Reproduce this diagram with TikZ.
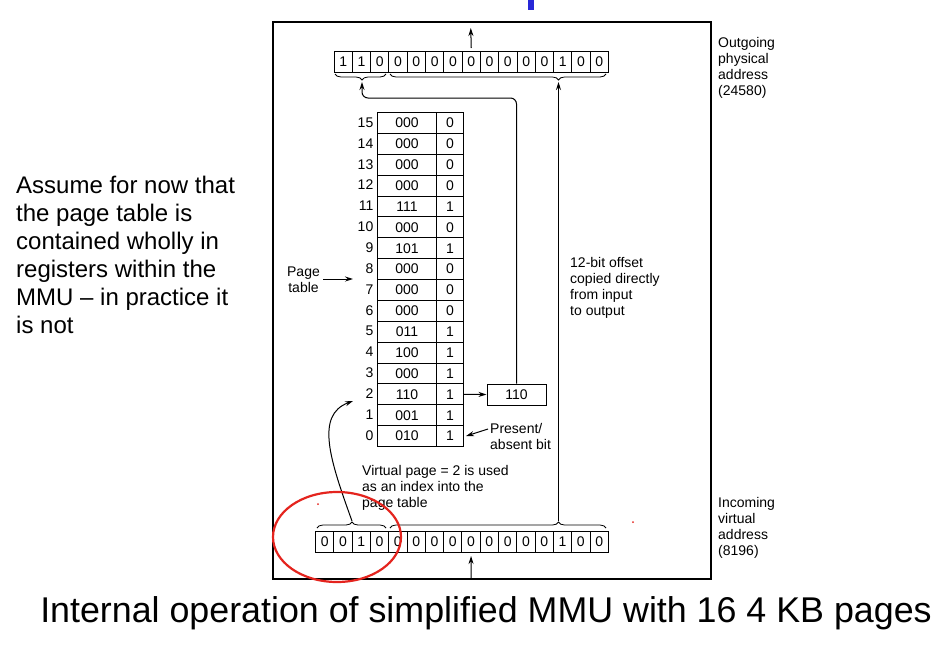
\documentclass[tikz,border=0pt]{standalone}
\usepackage{fontspec}
\setmainfont{Liberation Sans}
\usetikzlibrary{arrows.meta,decorations.pathreplacing,calc}
\definecolor{penred}{RGB}{228,36,30}
\definecolor{titleblue}{RGB}{40,40,215}
\begin{document}
\begin{tikzpicture}[x=1pt,y=-1pt,
  lbl/.style={font=\fontsize{14}{16}\selectfont, inner sep=0pt, align=left, anchor=north west},
  bitcell/.style={draw, line width=1pt, minimum width=18.3pt, minimum height=21pt, inner sep=0pt, anchor=north west, font=\fontsize{14}{16}\selectfont},
  tcell/.style={draw, line width=1pt, minimum height=20.875pt, inner sep=0pt, anchor=north west, font=\fontsize{14}{16}\selectfont},
  rownum/.style={font=\fontsize{14}{16}\selectfont, anchor=east, inner sep=0pt},
  arr/.style={-{Stealth[length=8pt,width=5pt]}, line width=1pt},
  brc/.style={decorate, line width=0.8pt},
]
\useasboundingbox (0,0) rectangle (950,646);
\fill[titleblue] (528,0) rectangle (534,10);
% frame
\draw[line width=1.1pt] (273,22) rectangle (711,579);
% top register (outgoing)
\foreach \b [count=\i from 0] in {1,1,0,0,0,0,0,0,0,0,0,0,1,0,0}{
  \node[bitcell] (t\i) at ({333.5+\i*18.3},51) {\b};
}
% bottom register (incoming)
\foreach \b [count=\i from 0] in {0,0,1,0,0,0,0,0,0,0,0,0,0,1,0,0}{
  \node[bitcell] (b\i) at ({315+\i*18.3},531) {\b};
}
% braces
\draw[brc, decoration={brace, mirror, amplitude=6pt, aspect=0.53}] (335,74) -- (386,74);
\draw[brc, decoration={brace, mirror, amplitude=6pt, aspect=0.78}] (390,74) -- (606,74);
\draw[brc, decoration={brace, amplitude=6pt, aspect=0.507}] (317,528) -- (386,528);
\draw[brc, decoration={brace, amplitude=6pt, aspect=0.78}] (390,528) -- (606,528);
\coordinate (tb1) at (362,82);
\coordinate (tb2) at (558.5,82);
\coordinate (bb1) at (352,521);
\coordinate (bb2) at (558.5,521);
% page table
\foreach \i/\f/\p in {15/000/0,14/000/0,13/000/0,12/000/0,11/111/1,10/000/0,9/101/1,8/000/0,7/000/0,6/000/0,5/011/1,4/100/1,3/000/1,2/110/1,1/001/1,0/010/1}{
  \pgfmathsetmacro{\yy}{112+(15-\i)*20.875}
  \node[tcell, minimum width=59pt] (f\i) at (377,\yy) {\f};
  \node[tcell, minimum width=27pt] (p\i) at (436,\yy) {\p};
  \node[rownum] (n\i) at (373.5,\yy+10.44) {\i};
}
% output frame box
\node[draw, line width=1pt, minimum width=59pt, minimum height=21pt, inner sep=0pt, font=\fontsize{14}{16}\selectfont] (box) at (516.5,394.5) {110};
\draw[arr] (p2.east) -- (box.west);
\coordinate (bend) at (362,98);
\draw[arr, rounded corners=6pt] (box.north) |- (bend) -- (tb1);
% offset copy
\draw[arr] (bb2) -- (tb2);
% in / out arrows
\coordinate (outtop) at (470.75,28);
\draw[arr] ([yshift=3pt]t7.north) -- (outtop);
\coordinate (inbot) at (471,578);
\draw[arr] (inbot) -- ([yshift=-3pt]b8.south);
% page table label
\node[lbl, align=center, anchor=north] (ptl) at (303.5,267) {Page\\table};
\coordinate (ptin) at (353,279);
\draw[arr] (323,279) -- (ptin);
% present/absent
\node[lbl] (pab) at (490,423) {Present/\\absent bit};
\draw[arr] ($(pab.north west)+(-2,6)$) -- ([xshift=2pt]p0.east);
% virtual page text
\node[lbl] (vpt) at (362,465) {Virtual page = 2 is used\\as an index into the\\page table};
\coordinate (vp) at (353,401);
\draw[arr] (bb1) .. controls (330,460) and (315,415) .. (vp);
% side labels
\node[lbl] (outl) at (718,37.5) {Outgoing\\physical\\address\\(24580)};
\node[lbl] (offl) at (570,257) {12-bit offset\\copied directly\\from input\\to output};
\node[lbl] (inl) at (718,497) {Incoming\\virtual\\address\\(8196)};
% left note
\node[font=\fontsize{24}{28}\selectfont, inner sep=0pt, align=left, anchor=north west] (note) at (16,175.5) {Assume for now that\\the page table is\\contained wholly in\\registers within the\\MMU \textendash{} in practice it\\is not};
% caption
\node[font=\fontsize{35.8}{40}\selectfont, inner sep=0pt, anchor=base] (cap) at (486,622) {Internal operation of simplified MMU with 16 4 KB pages};
% red annotation
\draw[penred, line width=2.2pt] (337,537) ellipse [x radius=64, y radius=45];
\fill[penred] (318,504) circle (1);
\fill[penred] (633,522) circle (1);
\end{tikzpicture}
\end{document}
